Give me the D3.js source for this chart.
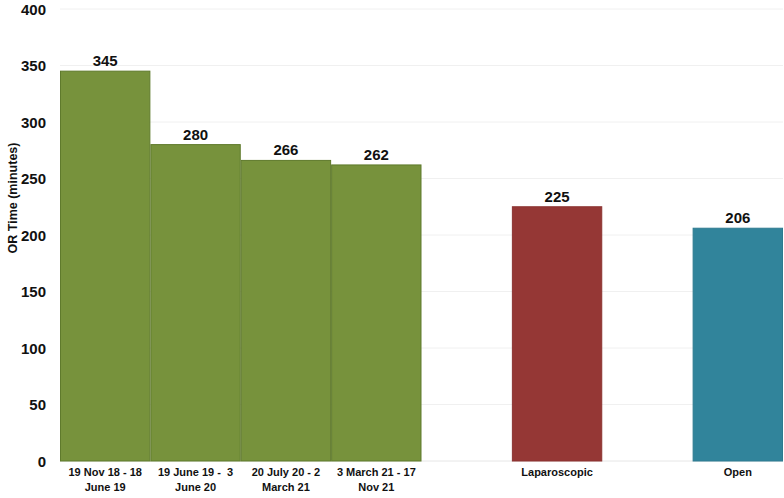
<!DOCTYPE html>
<html>
<head>
<meta charset="utf-8">
<script src="https://cdn.jsdelivr.net/npm/d3@7"></script>
<style>
  body { margin: 0; background: #fff; }
  text { font-family: "Liberation Sans", Arial, sans-serif; font-weight: bold; fill: #111; }
</style>
</head>
<body>
<div class="chart"></div>
<script>
// Chart data
var categories = ["19 Nov 18 - 18|June 19", "19 June 19 -  3|June 20", "20 July 20 - 2|March 21", "3 March 21 - 17|Nov 21", "", "Laparoscopic", " ", "Open"];
var values = [345, 280, 266, 262, null, 225, null, 206];
var barColors = ["#77923c", "#77923c", "#77923c", "#77923c", null, "#953735", null, "#31849b"];
var yTicks = [0, 50, 100, 150, 200, 250, 300, 350, 400];

var svgWidth = 784;
var svgHeight = 498;
var margin = { top: 9, right: 1, bottom: 37, left: 60 };
var width = svgWidth - margin.left - margin.right;
var height = svgHeight - margin.top - margin.bottom;

var svg = d3.select(".chart")
  .append("svg")
  .attr("width", svgWidth)
  .attr("height", svgHeight);

var chartGroup = svg.append("g")
  .attr("transform", `translate(${margin.left}, ${margin.top})`);

var xBand = d3.scaleBand()
  .domain(categories)
  .range([0, width])
  .padding(0);

var yLinear = d3.scaleLinear()
  .domain([0, 400])
  .range([height, 0]);

// gridlines
chartGroup.selectAll(".grid")
  .data(yTicks)
  .enter()
  .append("line")
  .attr("x1", 0)
  .attr("x2", width)
  .attr("y1", d => yLinear(d))
  .attr("y2", d => yLinear(d))
  .attr("stroke", d => d === 0 ? "#e6e6e6" : "#f0f0f0")
  .attr("stroke-width", 1);

// y axis
var leftAxis = d3.axisLeft(yLinear).tickValues(yTicks).tickSize(0).tickPadding(14);
var yAxisG = chartGroup.append("g").call(leftAxis);
yAxisG.select(".domain").remove();
yAxisG.selectAll("text").style("font-size", "15px").attr("dy", "0.35em");

// bars
var data = categories.map((c, i) => ({ cat: c, value: values[i], color: barColors[i], i: i }))
  .filter(d => d.value !== null);

chartGroup.selectAll(".bar")
  .data(data)
  .enter()
  .append("rect")
  .attr("class", "bar")
  .attr("x", d => xBand(d.cat) + 0.5)
  .attr("y", d => yLinear(d.value))
  .attr("width", xBand.bandwidth() - 1)
  .attr("height", d => height - yLinear(d.value))
  .attr("fill", d => d.color)
  .attr("stroke", d => d.i < 4 ? "#5f7a2c" : d3.color(d.color).darker(0.2))
  .attr("stroke-width", 1);

// value labels
chartGroup.selectAll(".val")
  .data(data)
  .enter()
  .append("text")
  .attr("x", d => xBand(d.cat) + xBand.bandwidth() / 2)
  .attr("y", d => yLinear(d.value) - 5)
  .attr("text-anchor", "middle")
  .style("font-size", "15px")
  .text(d => d.value);

// category labels
var catLabels = chartGroup.selectAll(".cat")
  .data(data)
  .enter()
  .append("text")
  .attr("text-anchor", "middle")
  .attr("transform", d => `translate(${xBand(d.cat) + xBand.bandwidth() / 2}, ${height + 15})`)
  .style("font-size", "11px")
  .style("white-space", "pre");

catLabels.selectAll("tspan")
  .data(d => d.cat.split("|"))
  .enter()
  .append("tspan")
  .attr("x", 0)
  .attr("dy", (d, i) => i === 0 ? 0 : 15)
  .text(d => d);

// y axis title
svg.append("text")
  .attr("transform", "translate(17, 198) rotate(-90)")
  .attr("text-anchor", "middle")
  .style("font-size", "12.5px")
  .text("OR Time (minutes)");
</script>
</body>
</html>
